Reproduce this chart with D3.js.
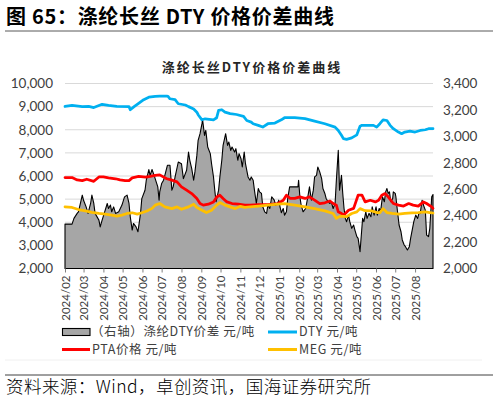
<!DOCTYPE html>
<html><head><meta charset="utf-8">
<script src="https://cdn.jsdelivr.net/npm/d3@7"></script>
<style>body{margin:0;background:#fff}svg{display:block}</style>
</head><body>
<svg id="c" width="498" height="403"></svg>
<script>
// ---- DATA ----
// 涤纶DTY价差 (右轴) 元/吨
const spreadData = [
["24-02-01",2336],["24-02-12",2336],["24-02-15",2379],["24-02-20",2417],["24-02-22",2429],["24-02-28",2555],["24-03-01",2516],["24-03-05",2466],["24-03-08",2417],["24-03-12",2492],["24-03-14",2555],["24-03-17",2492],["24-03-19",2417],["24-03-25",2366],["24-03-27",2315],["24-03-30",2366],["24-04-03",2429],["24-04-07",2492],["24-04-09",2454],["24-04-12",2480],["24-04-14",2429],["24-04-17",2466],["24-04-20",2417],["24-04-25",2429],["24-04-30",2480],["24-05-04",2542],["24-05-08",2555],["24-05-11",2492],["24-05-13",2391],["24-05-16",2291],["24-05-18",2341],["24-05-22",2315],["24-05-25",2278],["24-05-29",2417],["24-05-31",2529],["24-06-05",2592],["24-06-07",2668],["24-06-11",2749],["24-06-13",2705],["24-06-16",2749],["24-06-20",2693],["24-06-25",2618],["24-06-27",2517],["24-06-28",2580],["24-07-01",2643],["24-07-04",2668],["24-07-06",2705],["24-07-10",2781],["24-07-14",2781],["24-07-17",2593],["24-07-19",2618],["24-07-22",2693],["24-07-27",2806],["24-08-01",2793],["24-08-04",2680],["24-08-09",2743],["24-08-12",2881],["24-08-14",2819],["24-08-17",2756],["24-08-20",2668],["24-08-22",2731],["24-08-25",2856],["24-08-27",2970],["24-08-30",3020],["24-09-02",3096],["24-09-03",3126],["24-09-06",3007],["24-09-08",3045],["24-09-11",2919],["24-09-15",2869],["24-09-17",2793],["24-09-20",2693],["24-09-22",2593],["24-09-24",2505],["24-09-28",2593],["24-09-30",2693],["24-10-03",2819],["24-10-05",2932],["24-10-09",3020],["24-10-12",2932],["24-10-14",2957],["24-10-17",2894],["24-10-19",2919],["24-10-23",2881],["24-10-25",2907],["24-10-28",2819],["24-10-30",2869],["24-11-02",2831],["24-11-04",2768],["24-11-07",2881],["24-11-09",2793],["24-11-13",2693],["24-11-16",2668],["24-11-18",2693],["24-11-21",2668],["24-11-23",2593],["24-11-26",2492],["24-11-29",2605],["24-12-01",2580],["24-12-04",2568],["24-12-06",2467],["24-12-09",2429],["24-12-12",2417],["24-12-14",2480],["24-12-17",2454],["24-12-20",2543],["24-12-24",2517],["24-12-26",2480],["24-12-29",2492],["24-12-31",2517],
["25-01-02",2467],["25-01-04",2422],["25-01-07",2454],["25-01-09",2404],["25-01-12",2429],["25-01-14",2530],["25-01-17",2618],["25-01-22",2618],["25-01-30",2618],["25-01-31",2668],["25-02-02",2543],["25-02-04",2480],["25-02-07",2429],["25-02-11",2454],["25-02-14",2530],["25-02-17",2618],["25-02-20",2517],["25-02-23",2593],["25-02-25",2693],["25-02-28",2705],["25-03-02",2768],["25-03-05",2731],["25-03-08",2680],["25-03-10",2605],["25-03-13",2568],["25-03-15",2530],["25-03-18",2505],["25-03-21",2492],["25-03-23",2505],["25-03-26",2454],["25-03-29",2492],["25-03-31",2668],["25-04-03",2894],["25-04-05",2593],["25-04-08",2705],["25-04-10",2568],["25-04-12",2454],["25-04-14",2379],["25-04-16",2354],["25-04-19",2404],["25-04-21",2354],["25-04-24",2304],["25-04-27",2329],["25-04-29",2291],["25-05-02",2241],["25-05-04",2228],["25-05-07",2128],["25-05-09",2253],["25-05-11",2379],["25-05-13",2354],["25-05-16",2429],["25-05-18",2379],["25-05-21",2417],["25-05-24",2392],["25-05-26",2467],["25-05-29",2404],["25-06-01",2467],["25-06-03",2404],["25-06-06",2454],["25-06-08",2429],["25-06-11",2543],["25-06-14",2505],["25-06-16",2580],["25-06-18",2605],["25-06-20",2568],["25-06-22",2580],["25-06-24",2505],["25-06-27",2530],["25-06-28",2580],["25-07-01",2568],["25-07-02",2543],["25-07-04",2454],["25-07-07",2329],["25-07-10",2278],["25-07-12",2216],["25-07-15",2178],["25-07-17",2165],["25-07-20",2140],["25-07-23",2165],["25-07-25",2228],["25-07-28",2304],["25-07-30",2354],["25-08-02",2404],["25-08-05",2379],["25-08-07",2417],["25-08-09",2417],["25-08-12",2517],["25-08-14",2480],["25-08-17",2442],["25-08-19",2253],["25-08-22",2241],["25-08-24",2304],["25-08-27",2543],["25-08-29",2560]
];
// DTY 元/吨 (左轴)
const dtyData = [
["24-02-01",9007],["24-02-12",9050],["24-02-28",9000],["24-03-09",9010],["24-03-17",8960],["24-03-30",9100],["24-04-09",9050],["24-04-22",9010],["24-05-11",9000],["24-05-13",8865],["24-05-19",9000],["24-05-26",9140],["24-06-03",9300],["24-06-11",9410],["24-06-21",9440],["24-06-28",9450],["24-07-09",9450],["24-07-11",9440],["24-07-14",9340],["24-07-22",9300],["24-07-27",9125],["24-08-07",9070],["24-08-12",9000],["24-08-20",8900],["24-08-25",8760],["24-08-27",8650],["24-09-02",8430],["24-09-07",8475],["24-09-20",8430],["24-09-25",8520],["24-09-28",8835],["24-10-03",8865],["24-10-08",8760],["24-10-16",8700],["24-10-26",8660],["24-11-06",8580],["24-11-11",8400],["24-11-18",8330],["24-11-21",8260],["24-11-29",8190],["24-12-06",8115],["24-12-14",8260],["24-12-25",8290],["25-01-04",8430],["25-01-09",8520],["25-01-25",8520],["25-02-10",8480],["25-02-25",8375],["25-03-13",8260],["25-03-29",8115],["25-04-03",7970],["25-04-08",7760],["25-04-11",7615],["25-04-16",7585],["25-04-24",7650],["25-05-02",7780],["25-05-07",8150],["25-05-10",8190],["25-05-28",8190],["25-06-02",8115],["25-06-07",8260],["25-06-12",8430],["25-06-18",8400],["25-06-23",8190],["25-06-28",8045],["25-07-06",7900],["25-07-11",7830],["25-07-16",7900],["25-07-24",7940],["25-08-01",7900],["25-08-09",7970],["25-08-17",8000],["25-08-22",8045],["25-08-29",8045]
];
// PTA价格 元/吨 (左轴)
const ptaData = [
["24-02-01",5930],["24-02-12",5930],["24-02-20",5830],["24-02-28",5800],["24-03-06",5860],["24-03-17",5770],["24-03-25",5960],["24-04-01",5960],["24-04-09",5920],["24-04-20",5880],["24-04-27",5830],["24-05-05",5800],["24-05-11",5800],["24-05-16",5920],["24-05-26",5980],["24-06-06",5950],["24-06-13",5980],["24-06-21",6030],["24-06-28",6050],["24-07-09",5880],["24-07-17",5820],["24-07-25",5745],["24-08-01",5530],["24-08-09",5385],["24-08-17",5240],["24-08-25",5025],["24-08-30",4810],["24-09-04",4740],["24-09-12",4780],["24-09-20",4880],["24-09-25",5095],["24-09-30",5170],["24-10-05",5030],["24-10-11",4880],["24-10-19",4810],["24-10-29",4780],["24-11-08",4740],["24-11-16",4740],["24-11-29",4760],["24-12-14",4760],["24-12-30",4810],["25-01-07",4950],["25-01-12",5170],["25-01-18",5030],["25-01-25",5030],["25-02-02",5095],["25-02-10",5030],["25-02-17",5095],["25-02-25",4960],["25-03-05",4810],["25-03-13",4840],["25-03-21",4920],["25-03-26",4810],["25-03-31",4740],["25-04-03",4450],["25-04-08",4380],["25-04-11",4310],["25-04-14",4380],["25-04-19",4520],["25-04-27",4600],["25-05-04",5170],["25-05-10",5170],["25-05-15",4880],["25-05-23",4950],["25-05-31",4880],["25-06-05",4950],["25-06-10",5170],["25-06-15",5240],["25-06-20",5100],["25-06-28",4810],["25-07-06",4740],["25-07-14",4700],["25-07-22",4810],["25-07-29",4740],["25-08-06",4700],["25-08-14",4880],["25-08-19",4810],["25-08-27",4665],["25-08-29",4600]
];
// MEG 元/吨 (左轴)
const megData = [
["24-02-01",4665],["24-02-12",4640],["24-02-22",4550],["24-03-04",4490],["24-03-14",4430],["24-03-25",4380],["24-04-04",4350],["24-04-14",4310],["24-04-22",4265],["24-04-30",4310],["24-05-08",4380],["24-05-16",4410],["24-05-24",4350],["24-05-31",4410],["24-06-08",4490],["24-06-16",4600],["24-06-21",4740],["24-06-28",4810],["24-07-06",4665],["24-07-17",4590],["24-07-25",4665],["24-08-01",4560],["24-08-12",4665],["24-08-20",4780],["24-08-25",4640],["24-09-02",4520],["24-09-09",4420],["24-09-17",4520],["24-09-25",4740],["24-09-30",4850],["24-10-08",4740],["24-10-16",4665],["24-10-24",4590],["24-11-01",4690],["24-11-08",4640],["24-11-16",4670],["24-11-29",4700],["24-12-14",4740],["24-12-30",4780],["25-01-09",4810],["25-01-25",4740],["25-02-10",4665],["25-02-25",4590],["25-03-13",4490],["25-03-26",4380],["25-03-31",4165],["25-04-06",4265],["25-04-16",4240],["25-04-24",4380],["25-05-02",4450],["25-05-07",4590],["25-05-15",4500],["25-05-25",4490],["25-06-02",4420],["25-06-07",4420],["25-06-12",4590],["25-06-18",4420],["25-06-26",4380],["25-07-06",4350],["25-07-16",4380],["25-07-27",4410],["25-08-06",4420],["25-08-17",4450],["25-08-24",4420],["25-08-29",4400]
];
const leftTicks = [2000,3000,4000,5000,6000,7000,8000,9000,10000];
const rightTicks = [2000,2200,2400,2600,2800,3000,3200,3400];
const monthTicks = ["24-02-01","24-03-01","24-04-01","24-05-01","24-06-01","24-07-01","24-08-01","24-09-01","24-10-01","24-11-01","24-12-01","25-01-01","25-02-01","25-03-01","25-04-01","25-05-01","25-06-01","25-07-01","25-08-01"];
const dateRange = ["24-02-01","25-08-29"];

// ---- CHART ----
const parse = d3.timeParse("%y-%m-%d");
const svg = d3.select("#c");
const P = {l:65, r:433, t:83.5, b:268.5};
const CJK = "'Noto Sans CJK SC','Noto Sans',sans-serif";
const NUM = "Lato,'Open Sans',sans-serif";

const x = d3.scaleTime().domain(dateRange.map(parse)).range([P.l, P.r]);
const yL = d3.scaleLinear().domain([2000,10000]).range([P.b, P.t]);
const yR = d3.scaleLinear().domain([2000,3400]).range([P.b, P.t]);

// header
svg.append("text").attr("x",6).attr("y",17).attr("dy","0.35em")
  .attr("font-family",CJK).attr("font-weight","bold").attr("font-size",20).attr("letter-spacing",0.7).attr("fill","#000")
  .text("图 65：涤纶长丝 DTY 价格价差曲线");
svg.append("line").attr("x1",5).attr("x2",493).attr("y1",31).attr("y2",31).attr("stroke","#595959").attr("stroke-width",1);

// chart title
svg.append("text").attr("x",252).attr("y",67).attr("dy","0.35em").attr("text-anchor","middle")
  .attr("font-family",CJK).attr("font-weight","bold").attr("font-size",13).attr("letter-spacing",2).attr("fill","#262626")
  .text("涤纶长丝DTY价格价差曲线");

// gridlines
svg.append("g").selectAll("line").data(leftTicks).join("line")
  .attr("x1",P.l).attr("x2",P.r).attr("y1",d=>yL(d)).attr("y2",d=>yL(d))
  .attr("stroke","#d9d9d9").attr("stroke-width",1);

// spread area (right axis)
const sp = spreadData.map(d=>({d:parse(d[0]), v:d[1]}));
const area = d3.area().x(d=>x(d.d)).y0(yR(2000)).y1(d=>yR(d.v));
svg.append("path").datum(sp).attr("d",area)
  .attr("fill","#a6a6a6").attr("stroke","#000").attr("stroke-width",1.1).attr("stroke-linejoin","round");

// lines (left axis)
const line = d3.line().x(d=>x(d.d)).y(d=>yL(d.v));
[[dtyData,"#00b0f0"],[ptaData,"#ff0000"],[megData,"#ffc000"]].forEach(([data,col])=>{
  svg.append("path").datum(data.map(d=>({d:parse(d[0]), v:d[1]}))).attr("d",line)
    .attr("fill","none").attr("stroke",col).attr("stroke-width",2.75)
    .attr("stroke-linejoin","round").attr("stroke-linecap","round");
});

// axes
const ax = (g)=>{g.select(".domain").remove();
  g.selectAll("text").attr("font-family",NUM).attr("fill","#404040");};
svg.append("g").attr("transform",`translate(${P.l},0)`)
  .call(d3.axisLeft(yL).tickValues(leftTicks).tickFormat(d3.format(",")).tickSize(0).tickPadding(12))
  .call(ax).call(g=>g.selectAll("text").attr("font-size",13.5));
svg.append("g").attr("transform",`translate(${P.r},0)`)
  .call(d3.axisRight(yR).tickValues(rightTicks).tickFormat(d3.format(",")).tickSize(0).tickPadding(10))
  .call(ax).call(g=>g.selectAll("text").attr("font-size",13.5));
svg.append("g").attr("transform",`translate(0,${P.b})`)
  .call(d3.axisBottom(x).tickValues(monthTicks.map(parse)).tickFormat(d3.timeFormat("%Y/%m")).tickSize(4))
  .call(ax)
  .call(g=>{g.selectAll("line").attr("stroke","#7f7f7f");
    g.selectAll("text").attr("font-size",11.5).attr("transform","rotate(-90)")
     .attr("text-anchor","end").attr("x",-7).attr("y",0).attr("dy","0.35em");});

// legend
const lg = svg.append("g").attr("font-family",CJK).attr("font-size",12.5).attr("letter-spacing",0.6).attr("fill","#404040");
lg.append("rect").attr("x",62.5).attr("y",328.5).attr("width",27.5).attr("height",7)
  .attr("fill","#a6a6a6").attr("stroke","#000").attr("stroke-width",1.1);
lg.append("text").attr("x",91).attr("y",332).attr("dy","0.35em").text("（右轴）涤纶DTY价差 元/吨");
lg.append("line").attr("x1",62).attr("x2",90).attr("y1",349.5).attr("y2",349.5).attr("stroke","#ff0000").attr("stroke-width",3);
lg.append("text").attr("x",92).attr("y",349.5).attr("dy","0.35em").text("PTA价格 元/吨");
lg.append("line").attr("x1",268).attr("x2",297).attr("y1",332).attr("y2",332).attr("stroke","#00b0f0").attr("stroke-width",3);
lg.append("text").attr("x",299).attr("y",332).attr("dy","0.35em").text("DTY 元/吨");
lg.append("line").attr("x1",268).attr("x2",297).attr("y1",349.5).attr("y2",349.5).attr("stroke","#ffc000").attr("stroke-width",3);
lg.append("text").attr("x",299).attr("y",349.5).attr("dy","0.35em").text("MEG 元/吨");

// chart frame bottom (faint)
svg.append("line").attr("x1",5).attr("x2",482).attr("y1",360).attr("y2",360).attr("stroke","#f0f0f0");

// footer
svg.append("line").attr("x1",5).attr("x2",493).attr("y1",375).attr("y2",375).attr("stroke","#404040").attr("stroke-width",1);
svg.append("text").attr("x",6).attr("y",387).attr("dy","0.35em")
  .attr("font-family",CJK).attr("font-size",17.5).attr("font-weight",300).attr("letter-spacing",0.45).attr("fill","#000")
  .text("资料来源：Wind，卓创资讯，国海证券研究所");
</script>
</body></html>
